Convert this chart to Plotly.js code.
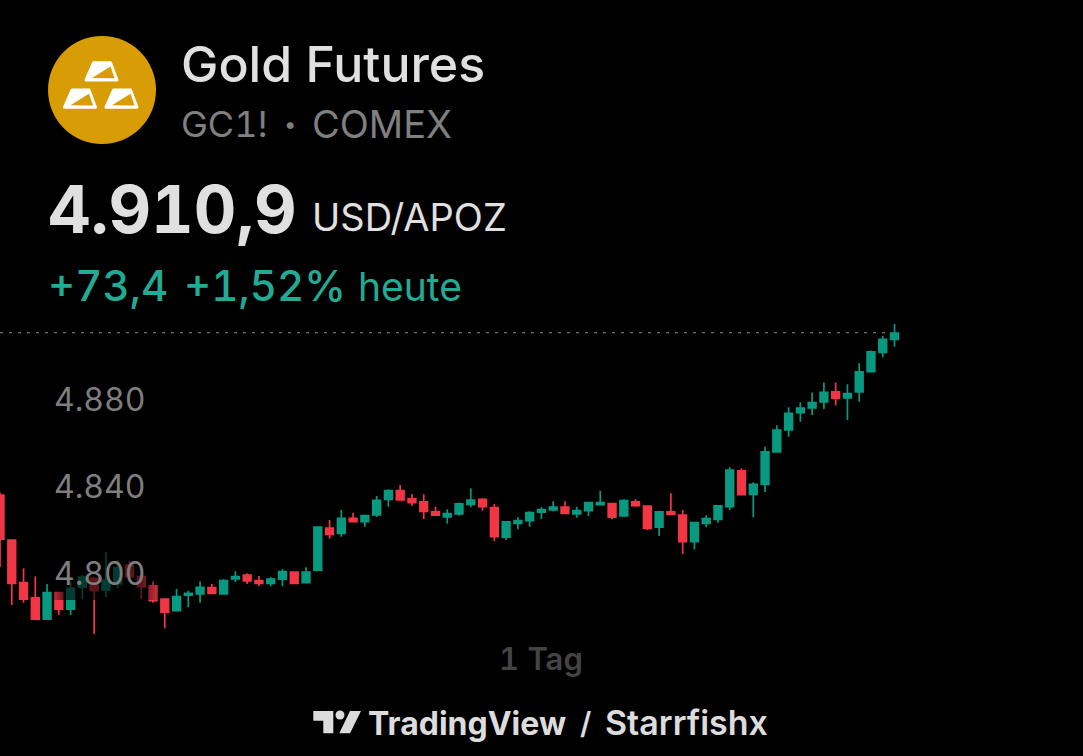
<!DOCTYPE html>
<html>
<head>
<meta charset="utf-8">
<script src="https://cdn.plot.ly/plotly-3.0.1.min.js"></script>
<style>
html,body{margin:0;padding:0;background:#000;overflow:hidden}#c{width:1083px;height:756px}
.annotation-text,.ytick text{font-feature-settings:"tnum" 1}
.shapelayer path{stroke-linejoin:round}
</style>
</head>
<body>
<div id="c"></div>
<script>
const open = [4836.3,4815.6,4796.0,4789.0,4779.2,4791.4,4783.8,4793.9,4798.0,4792.6,4795.4,4804.1,4798.8,4794.5,4788.4,4783.1,4790.3,4790.8,4793.7,4790.8,4797.7,4799.5,4796.9,4795.7,4797.6,4800.9,4796.0,4801.8,4821.1,4818.7,4825.6,4824.0,4827.1,4834.3,4838.3,4834.5,4833.1,4828.6,4826.2,4827.6,4832.0,4834.3,4830.5,4816.9,4823.3,4824.5,4828.4,4829.4,4830.7,4827.6,4829.1,4831.9,4832.4,4826.7,4833.2,4831.2,4821.5,4828.5,4827.1,4814.8,4823.3,4825.1,4830.9,4847.4,4836.6,4841.2,4856.1,4866.2,4874.2,4876.3,4879.1,4883.7,4880.9,4883.7,4893.0,4901.9,4907.9];
const high = [4837.4,4816.0,4802.6,4798.8,4795.4,4791.7,4796.5,4799.5,4798.2,4810.2,4806.4,4806.1,4799.5,4796.5,4788.6,4793.2,4792.3,4796.5,4795.4,4797.6,4801.2,4800.3,4799.1,4798.5,4802.2,4801.0,4803.1,4821.6,4824.8,4829.4,4828.2,4827.1,4835.9,4838.9,4840.9,4836.8,4836.6,4830.9,4829.7,4832.8,4839.4,4834.8,4832.2,4824.4,4826.1,4828.8,4830.7,4833.4,4833.4,4830.9,4833.1,4838.3,4832.5,4834.3,4834.3,4831.3,4829.1,4837.1,4829.4,4823.9,4827.0,4831.7,4849.1,4848.6,4842.2,4858.5,4868.4,4876.6,4878.9,4883.4,4888.0,4888.0,4887.2,4896.9,4902.7,4909.4,4914.9];
const low = [4803.2,4785.7,4786.8,4779.0,4779.0,4781.3,4781.1,4788.4,4772.4,4789.3,4793.6,4798.2,4788.4,4786.8,4775.0,4783.0,4784.7,4786.8,4790.8,4790.6,4796.3,4795.4,4794.5,4794.5,4794.5,4795.4,4795.7,4801.4,4816.2,4817.1,4823.8,4821.7,4826.2,4830.9,4833.7,4831.4,4825.3,4826.7,4823.1,4826.8,4830.7,4829.1,4815.0,4815.6,4820.5,4821.7,4825.3,4828.8,4827.7,4825.9,4826.7,4831.8,4825.1,4826.3,4830.9,4820.2,4817.5,4827.3,4809.2,4811.4,4821.5,4823.6,4829.4,4836.4,4826.1,4837.7,4856.0,4863.1,4870.0,4873.1,4875.9,4877.4,4870.8,4879.2,4892.6,4899.6,4904.5];
const close = [4816.0,4795.7,4788.4,4779.2,4791.4,4783.8,4793.4,4798.5,4792.3,4797.2,4802.8,4798.8,4794.2,4787.7,4782.4,4789.6,4791.1,4793.9,4791.1,4796.9,4798.8,4796.8,4795.7,4797.6,4801.1,4795.7,4800.9,4821.5,4818.2,4825.6,4824.0,4826.8,4833.9,4838.3,4834.0,4832.8,4828.8,4827.0,4827.7,4832.2,4834.0,4830.9,4817.1,4824.0,4824.5,4828.2,4829.6,4830.7,4827.9,4829.1,4832.8,4832.8,4826.1,4833.7,4831.4,4821.0,4828.6,4827.4,4814.8,4823.6,4825.4,4831.3,4847.8,4836.5,4841.2,4856.2,4866.2,4873.9,4876.3,4878.8,4883.5,4880.8,4882.9,4892.9,4902.1,4907.9,4910.8];
const tickValues = [4880,4840,4800];
const tickLabels = ['4.880','4.840','4.800'];
const lastPrice = 4910.9;
const sessions = open.map((_, i) => i);

const W = 1083, H = 756;
const px = x => x / W, py = y => 1 - y / H;
const INK = '#e0e0e0', GREY = '#808080', TEAL = '#22ab94', UP = '#089981', DOWN = '#f23645', GOLD = '#d89c04';

function poly(pts, dx, dy, fill, line) {
  const d = pts.map((p, i) => (i ? 'L' : 'M') + px(p[0] + dx) + ',' + py(p[1] + dy)).join(' ') + ' Z';
  return {type:'path', xref:'paper', yref:'paper', path:d, fillcolor:fill,
          line:{color:line || fill, width:line ? 3 : 0}, layer:'above'};
}
const barOutline = [[93.5,62.8],[110.5,62.8],[117,80],[86,80]];
const barWedge = [[92,78],[110.5,66.5],[114.5,78.2]];
const barOffsets = [[0,0],[-21.5,27.2],[20,27.2]];
const shapes = [
  {type:'circle', xref:'paper', yref:'paper', x0:px(48), x1:px(156), y0:py(36), y1:py(144), fillcolor:GOLD, line:{width:0}, layer:'above'},
];
barOffsets.forEach(o => {
  shapes.push(poly(barOutline, o[0], o[1], '#ffffff', '#ffffff'));
  shapes.push(poly(barWedge, o[0], o[1], GOLD));
});
// TradingView mark
shapes.push(poly([[313.3,711],[333.3,711],[333.3,733.3],[323.3,733.3],[323.3,720.7],[313.3,720.7]],0,0,'#dcdcdc'));
shapes.push(poly([[350,711],[361,711],[350,733.3],[339.3,733.3]],0,0,'#dcdcdc'));
shapes.push({type:'circle', xref:'paper', yref:'paper', x0:px(335.5), x1:px(344.5), y0:py(710.5), y1:py(719.5), fillcolor:'#dcdcdc', line:{width:0}, layer:'above'});
// last price line
shapes.push({type:'line', xref:'x', yref:'y', x0:0, x1:75.3, y0:lastPrice, y1:lastPrice, line:{color:'#8a8a8a', width:1, dash:'3px,6px'}, layer:'below'});

function note(text, x, y, size, color, weight, anchor) {
  return {text, x:px(x), y:py(y), xref:'paper', yref:'paper', xanchor:anchor || 'left', yanchor:'middle',
          showarrow:false, font:{size, color, weight:weight || 400, family:'Inter, sans-serif'}};
}
const annotations = [
  note('Gold Futures', 179, 64, 50, INK, 500),
  note('GC1!', 179, 124, 36, GREY, 400),
  note('•', 282, 124, 22, GREY, 400),
  note('COMEX', 310, 124, 38, GREY, 400),
  note('4.910,9', 46, 209, 66, INK, 700),
  note('USD/APOZ', 310, 217, 38, INK, 400),
  note('+73,4', 46, 285, 42, TEAL, 500),
  note('+1,52%', 182, 285, 42, TEAL, 500),
  note('heute', 356, 286, 39, TEAL, 400),
  note('1 Tag', 541, 658, 31, '#444444', 600, 'center'),
  note('TradingView', 366, 723, 32, '#dcdcdc', 700),
  note('/', 585, 723, 30, '#dcdcdc', 600, 'center'),
  note('Starrfishx', 603, 722, 34, '#dcdcdc', 600),
];

const candles = {
  type:'candlestick', x:sessions, open, high, low, close, hoverinfo:'skip',
  increasing:{line:{color:UP, width:1.7}, fillcolor:UP},
  decreasing:{line:{color:DOWN, width:1.7}, fillcolor:DOWN},
  whiskerwidth:0
};
const veil = {
  type:'scatter', mode:'lines', x:[4.4,13.4,13.4,4.4,4.4], y:[4788,4788,4811,4811,4788], fill:'toself',
  line:{width:0}, hoverinfo:'skip', showlegend:false,
  fillgradient:{type:'horizontal', colorscale:[[0,'rgba(0,0,0,0.15)'],[0.12,'rgba(0,0,0,0.62)'],[0.85,'rgba(0,0,0,0.62)'],[1,'rgba(0,0,0,0.15)']]}
};
const layout = {
  width:W, height:H, margin:{l:0,r:0,t:0,b:0}, paper_bgcolor:'#000', plot_bgcolor:'#000', showlegend:false,
  boxgap:0.35, boxgroupgap:0,
  xaxis:{range:[0, W/11.77], visible:false, showgrid:false, zeroline:false, rangeslider:{visible:false}, fixedrange:true},
  yaxis:{range:[4716.3,5063.9], tickvals:tickValues, ticktext:tickLabels, showgrid:false, zeroline:false, showline:false,
         ticks:'', ticklen:0, ticklabelposition:'inside', ticklabelstandoff:51, fixedrange:true,
         tickfont:{size:32, color:'#7e7e7e', family:'Inter, sans-serif'}},
  shapes, annotations
};
Plotly.newPlot('c', [candles, veil], layout, {displayModeBar:false, responsive:false, staticPlot:true});
</script>
</body>
</html>
